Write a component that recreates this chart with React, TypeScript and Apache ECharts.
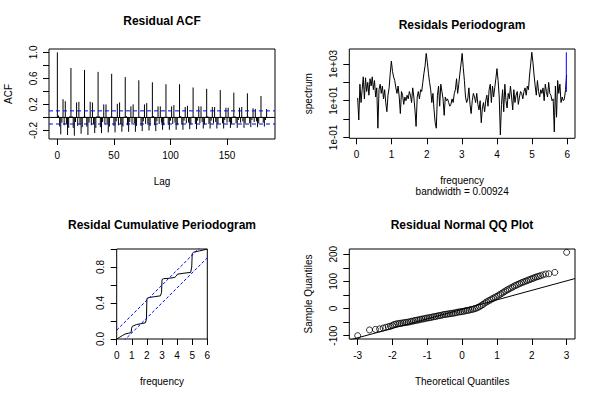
import React, { useEffect, useRef } from "react";
import * as echarts from "echarts";

const FONT = "'Liberation Sans', Arial, Helvetica, sans-serif";

// ---------- Residual ACF (lags 0..185) ----------
const acfValues: number[] = [
  1.0, 0.03, -0.14, -0.26, -0.08, 0.28, -0.12, 0.25, -0.1, -0.27, -0.16, 0.02,
  0.76, 0.02, -0.16, -0.28, -0.07, 0.23, -0.13, 0.24, -0.11, -0.25, -0.15, 0.01,
  0.73, 0.01, -0.14, -0.27, -0.08, 0.24, -0.12, 0.23, -0.1, -0.24, -0.16, 0.02,
  0.7, 0.02, -0.15, -0.24, -0.07, 0.2, -0.11, 0.2, -0.09, -0.23, -0.14, 0.01,
  0.67, 0.01, -0.13, -0.23, -0.06, 0.21, -0.12, 0.23, -0.1, -0.22, -0.14, 0.01,
  0.62, 0.02, -0.12, -0.22, -0.07, 0.17, -0.11, 0.2, -0.09, -0.22, -0.13, 0.0,
  0.57, 0.01, -0.13, -0.21, -0.06, 0.2, -0.1, 0.22, -0.09, -0.2, -0.13, 0.01,
  0.54, 0.02, -0.12, -0.21, -0.06, 0.17, -0.1, 0.17, -0.08, -0.19, -0.12, 0.01,
  0.51, 0.01, -0.11, -0.19, -0.05, 0.17, -0.1, 0.19, -0.08, -0.19, -0.12, 0.0,
  0.51, 0.02, -0.11, -0.19, -0.05, 0.16, -0.09, 0.18, -0.08, -0.18, -0.11, 0.01,
  0.46, 0.01, -0.1, -0.18, -0.05, 0.17, -0.09, 0.17, -0.07, -0.17, -0.11, 0.01,
  0.44, 0.02, -0.1, -0.17, -0.05, 0.16, -0.09, 0.16, -0.07, -0.17, -0.1, 0.0,
  0.42, 0.01, -0.09, -0.17, -0.04, 0.15, -0.08, 0.15, -0.07, -0.16, -0.1, 0.01,
  0.38, 0.02, -0.09, -0.16, -0.04, 0.15, -0.08, 0.16, -0.06, -0.16, -0.09, 0.01,
  0.37, 0.01, -0.09, -0.15, -0.04, 0.14, -0.07, 0.13, -0.06, -0.15, -0.09, 0.0,
  0.33, 0.01, -0.08, -0.14, -0.04, 0.13,
];
const acfCI = 0.101;
const acfXTicks = [0, 50, 100, 150];
const acfYTicks = [-0.2, 0, 0.2, 0.4, 0.6, 0.8, 1.0];
const acfYLabels = [-0.2, 0.2, 0.6, 1.0];

// ---------- Periodogram (log10 of spectrum) ----------
const specFreqStep = 12 / 375;
const specLog10: number[] = [
  1.15, -0.05, 1.9, 0.9, 1.6, 2.3, 1.1, 2.25, 1.5, 2.0, 1.3, 2.2, 1.8, 2.3, 1.6, 2.1, 1.2, 1.7, -0.5, 1.6, 1.9, 1.4, 1.8, 1.1, 1.6, 0.9, 0.4, 1.3, 1.7, 2.5, 3.16,
  2.6, 2.3, 2.1, 1.7, 1.4, 1.8, 1.2, 0.3, 1.5, 1.3, 0.8, 1.2, 1.0, 1.3, 1.1, 1.5, 1.3, 0.9, 1.7, 1.2, 0.5, -0.4, 1.2, 1.5, 1.1, 1.6, 1.5, 2.0, 2.5, 2.9, 3.58,
  3.1, 2.5, 2.0, 1.6, 0.9, 1.4, 0.5, -0.2, -0.5, 1.3, 1.8, 0.7, 1.9, 1.5, 1.1, 0.2, 1.2, 1.0, 1.1, 0.9, 0.7, 0.8, 1.1, 0.9, 1.4, 1.6, 2.2, 1.4, 1.9, 2.5, 3.0, 3.58,
  2.8, 2.1, 1.2, 0.9, 1.1, 1.7, 0.8, 0.3, 1.0, 1.4, 1.2, 0.9, 1.4, 0.8, 0.5, 1.0, -0.2, 0.6, 0.9, 0.4, 1.0, 1.3, 0.7, 1.6, 1.9, 0.9, 1.8, 1.2, 1.7, 2.2, 2.75,
  2.1, 1.2, -0.87, 0.8, 1.6, 0.4, 1.9, 1.0, 0.6, 1.4, 1.1, 1.8, 1.2, 0.5, 1.6, 0.9, 1.3, 1.5, 0.8, 1.2, 1.5, 1.4, 1.1, 1.5, 1.7, 1.3, 1.8, 1.6, 2.4, 3.0, 3.64,
  3.1, 2.4, 1.8, 1.3, 2.1, 1.5, 1.2, 1.6, 1.4, 1.7, 1.0, 1.9, 1.5, 1.2, 2.0, 1.4, 1.3, 1.0, 1.1, -0.7, 1.8, 0.1, 2.1, 1.4, 1.9, 0.9, 1.2, 1.0, 1.1, 1.6, 2.4,
];
const bandwidth = 0.00924;
const ciLog10Ratio = 2.163; // log10(qchisq(.975,2)/qchisq(.025,2))
const specXTicks = [0, 1, 2, 3, 4, 5, 6];
const specYTicks = [-1, 0, 1, 2, 3];
const specYLabels = [-1, 1, 3];

// ---------- Cumulative periodogram ----------
const cumPoints: [number, number][] = [
  [0, 0], [0.2, 0.02], [0.4, 0.04], [0.55, 0.055], [0.8, 0.065], [0.95, 0.07], [0.99, 0.12],
  [1.03, 0.14], [1.3, 0.16], [1.6, 0.17], [1.9, 0.18], [1.97, 0.22], [2.0, 0.45], [2.1, 0.46],
  [2.5, 0.47], [2.9, 0.48], [2.97, 0.52], [3.0, 0.66], [3.1, 0.67], [3.5, 0.675], [3.85, 0.685],
  [3.95, 0.7], [4.02, 0.72], [4.4, 0.73], [4.9, 0.74], [4.97, 0.8], [5.0, 0.95], [5.1, 0.965],
  [5.5, 0.98], [5.9, 0.995], [6.0, 1.0],
];
const cumCrit = 0.0986;
const cumXTicks = [0, 1, 2, 3, 4, 5, 6];
const cumYTicks = [0, 0.2, 0.4, 0.6, 0.8, 1.0];
const cumYLabels = [0, 0.4, 0.8];

// ---------- Normal QQ ----------
const qqPoints: [number, number][] = [
  [-3.0, -100], [-2.66, -79], [-2.49, -77], [-2.37, -75], [-2.27, -72], [-2.19, -69], [-2.12, -67],
  [-2.06, -65], [-2.0, -62], [-1.95, -59], [-1.9, -57],
  [-1.85, -56], [-1.8, -55], [-1.75, -54], [-1.7, -53], [-1.65, -52], [-1.6, -51], [-1.55, -50],
  [-1.5, -49], [-1.45, -47], [-1.4, -46], [-1.35, -44], [-1.3, -43], [-1.25, -42], [-1.2, -40],
  [-1.15, -39], [-1.1, -38], [-1.05, -36], [-1.0, -35], [-0.95, -34], [-0.9, -33], [-0.85, -31],
  [-0.8, -30], [-0.75, -29], [-0.7, -27], [-0.65, -26], [-0.6, -25], [-0.55, -23], [-0.5, -22],
  [-0.45, -21], [-0.4, -20], [-0.35, -19], [-0.3, -18], [-0.25, -17], [-0.2, -16], [-0.15, -14],
  [-0.1, -13], [-0.05, -12], [0.0, -11], [0.05, -10], [0.1, -8], [0.15, -7], [0.2, -6], [0.25, -4],
  [0.3, -3], [0.35, -1], [0.4, 1], [0.45, 4], [0.5, 7], [0.55, 11], [0.6, 15], [0.65, 20],
  [0.7, 24], [0.75, 28], [0.8, 31], [0.85, 35], [0.9, 38], [0.95, 42], [1.0, 45], [1.05, 49],
  [1.1, 53], [1.15, 57], [1.2, 61], [1.25, 65], [1.3, 69], [1.35, 72], [1.4, 76], [1.45, 79],
  [1.5, 83], [1.55, 86], [1.6, 89], [1.65, 92], [1.7, 95], [1.75, 97], [1.8, 100], [1.85, 102],
  [1.9, 105], [1.95, 107], [2.0, 110], [2.05, 112], [2.1, 115], [2.15, 117], [2.2, 119], [2.25, 121],
  [2.32, 124], [2.4, 127], [2.49, 128], [2.66, 133], [3.0, 207],
];
const qqSampleQ1 = -26.6;
const qqSampleQ3 = 20.6;
const qqNormQ = 0.6745;
const qqXTicks = [-3, -2, -1, 0, 1, 2, 3];
const qqYTicks = [-100, -50, 0, 50, 100, 150, 200];
const qqYLabels = [-100, 0, 100, 200];

function rRange(vals: number[]): [number, number] {
  const lo = Math.min(...vals);
  const hi = Math.max(...vals);
  const d = (hi - lo) * 0.04;
  return [lo - d, hi + d];
}

const textStyle = { color: "#000", fontSize: 10, fontFamily: FONT };

function makeAxis(opts: {
  gridIndex: number;
  min: number;
  max: number;
  ticks: number[];
  labels: number[];
  fmt?: (v: number) => string;
  name?: string;
  nameGap?: number;
  rotate?: number;
  nameLineHeight?: number;
}) {
  return {
    type: "value",
    gridIndex: opts.gridIndex,
    min: opts.min,
    max: opts.max,
    axisLine: { show: false, onZero: false },
    splitLine: { show: false },
    axisTick: {
      show: true,
      length: 6,
      customValues: opts.ticks,
      lineStyle: { color: "#000", width: 1 },
    },
    axisLabel: {
      show: true,
      customValues: opts.labels,
      margin: 11,
      rotate: opts.rotate || 0,
      ...textStyle,
      formatter: opts.fmt || ((v: number) => String(v)),
    },
    name: opts.name || "",
    nameLocation: "middle",
    nameGap: opts.nameGap || 30,
    nameTextStyle: { ...textStyle, lineHeight: opts.nameLineHeight || 12 },
  };
}

export default function App() {
  const ref = useRef<HTMLDivElement>(null);

  useEffect(() => {
    if (!ref.current) return;
    const chart = echarts.init(ref.current, undefined, { renderer: "svg" });

    const acfX = rRange(acfValues.map((_, i) => i));
    const acfY = rRange(acfValues);
    const specFreq = specLog10.map((_, i) => (i + 1) * specFreqStep);
    const specX = rRange(specFreq);
    const specY = rRange(specLog10);
    const qqX = rRange(qqPoints.map((p) => p[0]));
    const qqY = rRange(qqPoints.map((p) => p[1]));

    const specMax = Math.max(...specLog10);
    const ciX = specFreq[specFreq.length - 1] - bandwidth;
    const slope = (qqSampleQ3 - qqSampleQ1) / (2 * qqNormQ);
    const qqLineY = (x: number) => qqSampleQ1 + (x + qqNormQ) * slope;

    const fmt1 = (v: number) => v.toFixed(1);
    const fmtExp = (v: number) => {
      const e = Math.round(v);
      const s = e < 0 ? "-" : "+";
      return "1e" + s + String(Math.abs(e)).padStart(2, "0");
    };

    const blackLine = { color: "#000", width: 1 };

    const option: any = {
      animation: false,
      backgroundColor: "#fff",
      textStyle: { fontFamily: FONT },
      grid: [
        { left: 49, top: 49, width: 226, height: 90, show: true, borderColor: "#000", borderWidth: 1, backgroundColor: "transparent" },
        { left: 349.3, top: 49, width: 225.7, height: 89.3, show: true, borderColor: "#000", borderWidth: 1, backgroundColor: "transparent" },
        { left: 116.7, top: 249, width: 90.6, height: 90, show: true, borderColor: "#000", borderWidth: 1, backgroundColor: "transparent" },
        { left: 349.3, top: 249, width: 225.7, height: 90, show: true, borderColor: "#000", borderWidth: 1, backgroundColor: "transparent" },
      ],
      xAxis: [
        makeAxis({ gridIndex: 0, min: acfX[0], max: acfX[1], ticks: acfXTicks, labels: acfXTicks, name: "Lag", nameGap: 36 }),
        makeAxis({ gridIndex: 1, min: specX[0], max: specX[1], ticks: specXTicks, labels: specXTicks, name: "frequency\nbandwidth = " + bandwidth, nameGap: 36, nameLineHeight: 11.7 }),
        makeAxis({ gridIndex: 2, min: 0, max: 6, ticks: cumXTicks, labels: cumXTicks, name: "frequency", nameGap: 36 }),
        makeAxis({ gridIndex: 3, min: qqX[0], max: qqX[1], ticks: qqXTicks, labels: qqXTicks, name: "Theoretical Quantiles", nameGap: 36 }),
      ],
      yAxis: [
        makeAxis({ gridIndex: 0, min: acfY[0], max: acfY[1], ticks: acfYTicks, labels: acfYLabels, fmt: fmt1, name: "ACF", nameGap: 35, rotate: 90 }),
        makeAxis({ gridIndex: 1, min: specY[0], max: specY[1], ticks: specYTicks, labels: specYLabels, fmt: fmtExp, name: "spectrum", nameGap: 35, rotate: 90 }),
        makeAxis({ gridIndex: 2, min: 0, max: 1, ticks: cumYTicks, labels: cumYLabels, fmt: fmt1, rotate: 90 }),
        makeAxis({ gridIndex: 3, min: qqY[0], max: qqY[1], ticks: qqYTicks, labels: qqYLabels, name: "Sample Quantiles", nameGap: 35, rotate: 90 }),
      ],
      series: [
        // ACF spikes
        {
          type: "custom",
          xAxisIndex: 0,
          yAxisIndex: 0,
          silent: true,
          data: acfValues.map((v, i) => [i, v]),
          renderItem: (_params: any, api: any) => {
            const p0 = api.coord([api.value(0), 0]);
            const p1 = api.coord([api.value(0), api.value(1)]);
            return {
              type: "line",
              shape: { x1: p0[0], y1: p0[1], x2: p1[0], y2: p1[1] },
              style: { stroke: "#000", lineWidth: 1 },
            };
          },
        },
        {
          type: "line", xAxisIndex: 0, yAxisIndex: 0, silent: true, showSymbol: false,
          data: [[acfX[0], 0], [acfX[1], 0]], lineStyle: blackLine,
        },
        {
          type: "line", xAxisIndex: 0, yAxisIndex: 0, silent: true, showSymbol: false,
          data: [[acfX[0], acfCI], [acfX[1], acfCI]], lineStyle: { color: "#0000ff", width: 1, type: [4, 3] },
        },
        {
          type: "line", xAxisIndex: 0, yAxisIndex: 0, silent: true, showSymbol: false,
          data: [[acfX[0], -acfCI], [acfX[1], -acfCI]], lineStyle: { color: "#0000ff", width: 1, type: [4, 3] },
        },
        // Periodogram
        {
          type: "line", xAxisIndex: 1, yAxisIndex: 1, silent: true, showSymbol: false,
          data: specLog10.map((v, i) => [specFreq[i], v]), lineStyle: blackLine,
        },
        {
          type: "line", xAxisIndex: 1, yAxisIndex: 1, silent: true, showSymbol: false, clip: false,
          data: [[ciX, specMax], [ciX, specMax - ciLog10Ratio]], lineStyle: { color: "#0000ff", width: 1 },
        },
        // Cumulative periodogram
        {
          type: "line", xAxisIndex: 2, yAxisIndex: 2, silent: true, showSymbol: false,
          data: cumPoints, lineStyle: blackLine,
        },
        {
          type: "line", xAxisIndex: 2, yAxisIndex: 2, silent: true, showSymbol: false, clip: true,
          data: [[0, cumCrit], [6, 1 + cumCrit]], lineStyle: { color: "#0000ff", width: 1, type: [3, 2] },
        },
        {
          type: "line", xAxisIndex: 2, yAxisIndex: 2, silent: true, showSymbol: false, clip: true,
          data: [[0, -cumCrit], [6, 1 - cumCrit]], lineStyle: { color: "#0000ff", width: 1, type: [3, 2] },
        },
        // QQ
        {
          type: "scatter", xAxisIndex: 3, yAxisIndex: 3, silent: true,
          symbol: "circle", symbolSize: 6,
          data: qqPoints,
          itemStyle: { color: "rgba(0,0,0,0)", borderColor: "#000", borderWidth: 1 },
        },
        {
          type: "line", xAxisIndex: 3, yAxisIndex: 3, silent: true, showSymbol: false, clip: true,
          data: [[qqX[0], qqLineY(qqX[0])], [qqX[1], qqLineY(qqX[1])]], lineStyle: blackLine,
        },
      ],
      graphic: [
        { type: "text", x: 162, y: 21, style: { text: "Residual ACF", textAlign: "center", textVerticalAlign: "middle", font: "bold 12px " + FONT, fill: "#000" } },
        { type: "text", x: 462, y: 24.5, style: { text: "Residals Periodogram", textAlign: "center", textVerticalAlign: "middle", font: "bold 12px " + FONT, fill: "#000" } },
        { type: "text", x: 162, y: 224.7, style: { text: "Residal Cumulative Periodogram", textAlign: "center", textVerticalAlign: "middle", font: "bold 12px " + FONT, fill: "#000" } },
        { type: "text", x: 462, y: 224.7, style: { text: "Residual Normal QQ Plot", textAlign: "center", textVerticalAlign: "middle", font: "bold 12px " + FONT, fill: "#000" } },
      ],
    };

    chart.setOption(option);
    return () => chart.dispose();
  }, []);

  return (
    <div
      ref={ref}
      style={{ position: "fixed", left: 0, top: 0, width: 600, height: 400, background: "#fff" }}
    />
  );
}
